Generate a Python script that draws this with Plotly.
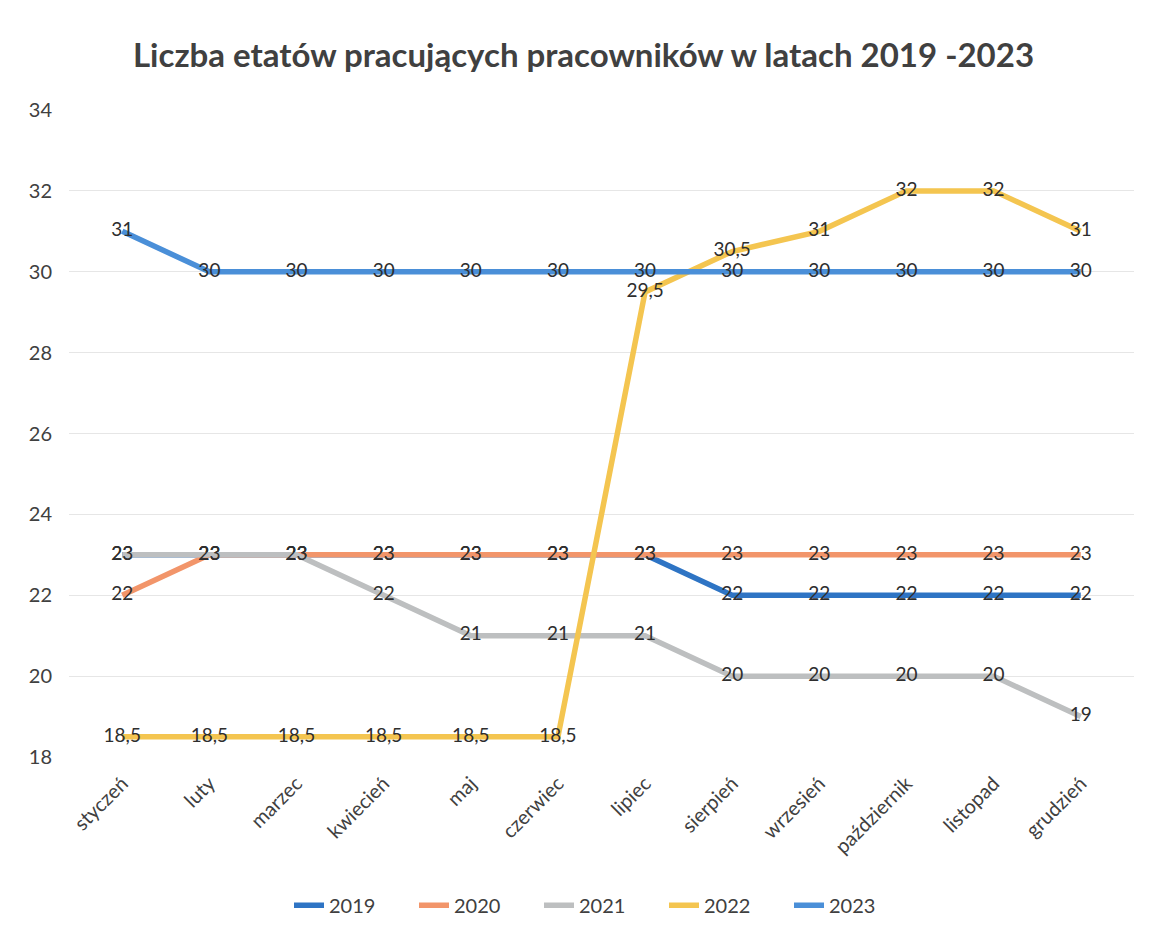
import plotly.graph_objects as go

months = ["styczeń", "luty", "marzec", "kwiecień", "maj", "czerwiec", "lipiec",
          "sierpień", "wrzesień", "październik", "listopad", "grudzień"]

y2019 = [23, 23, 23, 23, 23, 23, 23, 22, 22, 22, 22, 22]
y2020 = [22, 23, 23, 23, 23, 23, 23, 23, 23, 23, 23, 23]
y2021 = [23, 23, 23, 22, 21, 21, 21, 20, 20, 20, 20, 19]
y2022 = [18.5, 18.5, 18.5, 18.5, 18.5, 18.5, 29.5, 30.5, 31, 32, 32, 31]
y2023 = [31, 30, 30, 30, 30, 30, 30, 30, 30, 30, 30, 30]

series = [
    ("2019", y2019, "#2E74C4"),
    ("2020", y2020, "#F2956A"),
    ("2021", y2021, "#BDBFC0"),
    ("2022", y2022, "#F4C550"),
    ("2023", y2023, "#4A8FD8"),
]

def fmt(v):
    return ("%g" % v).replace(".", ",")

FONT = "Lato, 'Open Sans', 'DejaVu Sans', sans-serif"

fig = go.Figure()
for name, ys, col in series:
    fig.add_trace(go.Scatter(
        x=months, y=ys, name=name, mode="lines+text",
        line=dict(color=col, width=5.5),
        text=[fmt(v) for v in ys], textposition="middle center",
        textfont=dict(family=FONT, size=19, color="#2e2e2e"),
        cliponaxis=False,
    ))

fig.update_layout(
    width=1151, height=933,
    paper_bgcolor="white", plot_bgcolor="white",
    margin=dict(l=61, r=25, t=102, b=184),
    title=dict(text="<b>Liczba etatów pracujących pracowników w latach 2019 -2023</b>",
               x=0.5, xanchor="center", y=0.9496, yanchor="middle",
               font=dict(family=FONT, size=33, color="#404040")),
    font=dict(family=FONT, color="#595959"),
    legend=dict(orientation="h", x=0.5, xanchor="center", y=-0.229, yanchor="middle",
                font=dict(family=FONT, size=20, color="#404040"),
                entrywidth=80, entrywidthmode="pixels", traceorder="normal"),
    showlegend=True,
)
fig.update_xaxes(
    type="category", showgrid=False, showline=False, zeroline=False,
    tickangle=-45, tickfont=dict(family=FONT, size=20, color="#404040"),
    ticks="", ticklabelstandoff=10,
)
fig.update_yaxes(
    range=[18, 34], dtick=2, showgrid=True, gridcolor="#E6E6E6", gridwidth=1,
    zeroline=False, showline=False, ticks="", ticklen=0,
    ticklabelstandoff=16,
    tickfont=dict(family=FONT, size=20, color="#404040"),
)

fig.write_html("out.html")
